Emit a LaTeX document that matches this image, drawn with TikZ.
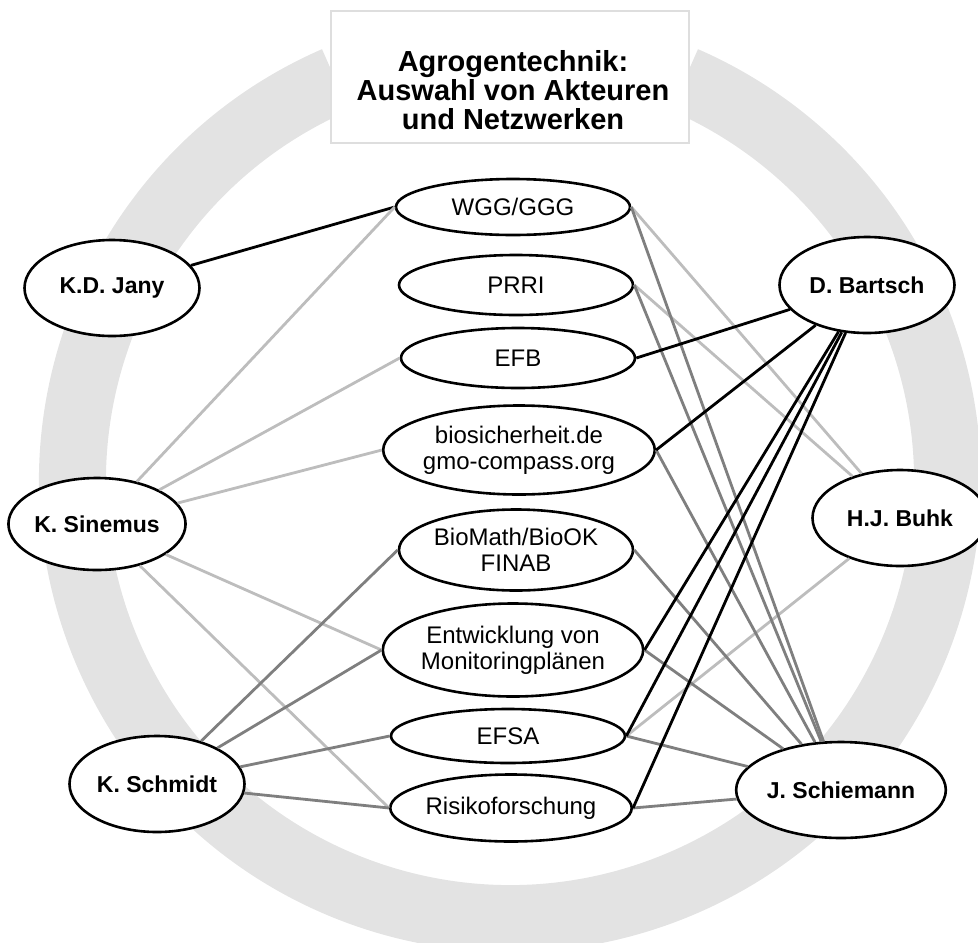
\documentclass[tikz,border=0pt]{standalone}
\usepackage{fontspec}
\setmainfont{Liberation Sans}
\usetikzlibrary{shapes.geometric}
\definecolor{ringgray}{HTML}{E3E3E3}
\definecolor{boxgray}{HTML}{DEDEDE}
\definecolor{weakgray}{HTML}{BDBDBD}
\definecolor{midgray}{HTML}{7F7F7F}

\begin{document}
\begin{tikzpicture}[x=1pt,y=-1pt,
  every node/.style={draw,shape=ellipse,fill=white,line width=2.6pt,inner sep=0pt},
  actor/.style={minimum width=175pt,minimum height=96pt,font=\fontsize{23}{26}\selectfont\bfseries},
  topic/.style={minimum width=234pt,align=center,font=\fontsize{24}{26}\selectfont},
  strong/.style={line width=2.8pt,black},
  medium/.style={line width=2.8pt,midgray},
  weak/.style={line width=2.8pt,weakgray}]
  \useasboundingbox (0,0) rectangle (978,943);
  % ring and title
  \draw[ringgray,line width=67pt] (510,481) ++(113.5:437.5pt) arc[start angle=113.5,end angle=426.5,radius=437.5pt];
  \node[shape=rectangle,draw=boxgray,line width=2pt,minimum width=358pt,minimum height=132pt] (title) at (509.5,77) {};
  \node[shape=rectangle,draw=none,fill=none,align=center,font=\fontsize{29}{29}\selectfont\bfseries] (titletext) at (513,90)
    {Agrogentechnik:\\Auswahl von Akteuren\\und Netzwerken};
  % topics
  \path (513,207) node[topic,minimum height=56pt] (wgg) {WGG/GGG}
  (516,285) node[topic,minimum height=60pt] (prri) {PRRI}
  (518,358) node[topic,minimum height=60pt] (efb) {EFB}
  (519,450) node[topic,minimum height=89pt] (bio) {biosicherheit.de\\gmo-compass.org}
  (516,550) node[topic,minimum height=81pt] (biomath) {BioMath/BioOK\\FINAB}
  (513,650) node[topic,minimum height=93pt] (entw) {Entwicklung von\\Monitoringpl\"anen}
  (508,736) node[topic,minimum height=54pt] (efsa) {EFSA}
  (511,808) node[topic,minimum height=67pt] (risk) {Risikoforschung};
  % actors
  \path (112,288) node[actor] (jany) {K.D. Jany}
  (97,524) node[actor,minimum height=92pt] (sinemus) {K. Sinemus}
  (157,784) node[actor] (schmidt) {K. Schmidt}
  (867,285) node[actor] (bartsch) {D. Bartsch}
  (900,518) node[actor] (buhk) {H.J. Buhk}
  (841,790) node[actor,minimum width=186pt] (schiemann) {J. Schiemann};
  % links
  \draw[strong] (jany) -- (wgg.west);
  \foreach \t in {wgg,efb,bio,entw,risk} \draw[weak] (sinemus) -- (\t.west);
  \foreach \t in {biomath,entw,efsa,risk} \draw[medium] (schmidt) -- (\t.west);
  \foreach \t in {wgg,prri,efsa} \draw[weak] (\t.east) -- (buhk);
  \foreach \t in {wgg,prri,bio,biomath,entw,efsa,risk} \draw[medium] (\t.east) -- (schiemann);
  \foreach \t in {efb,bio,entw,efsa,risk} \draw[strong] (\t.east) -- (bartsch);
\end{tikzpicture}
\end{document}
